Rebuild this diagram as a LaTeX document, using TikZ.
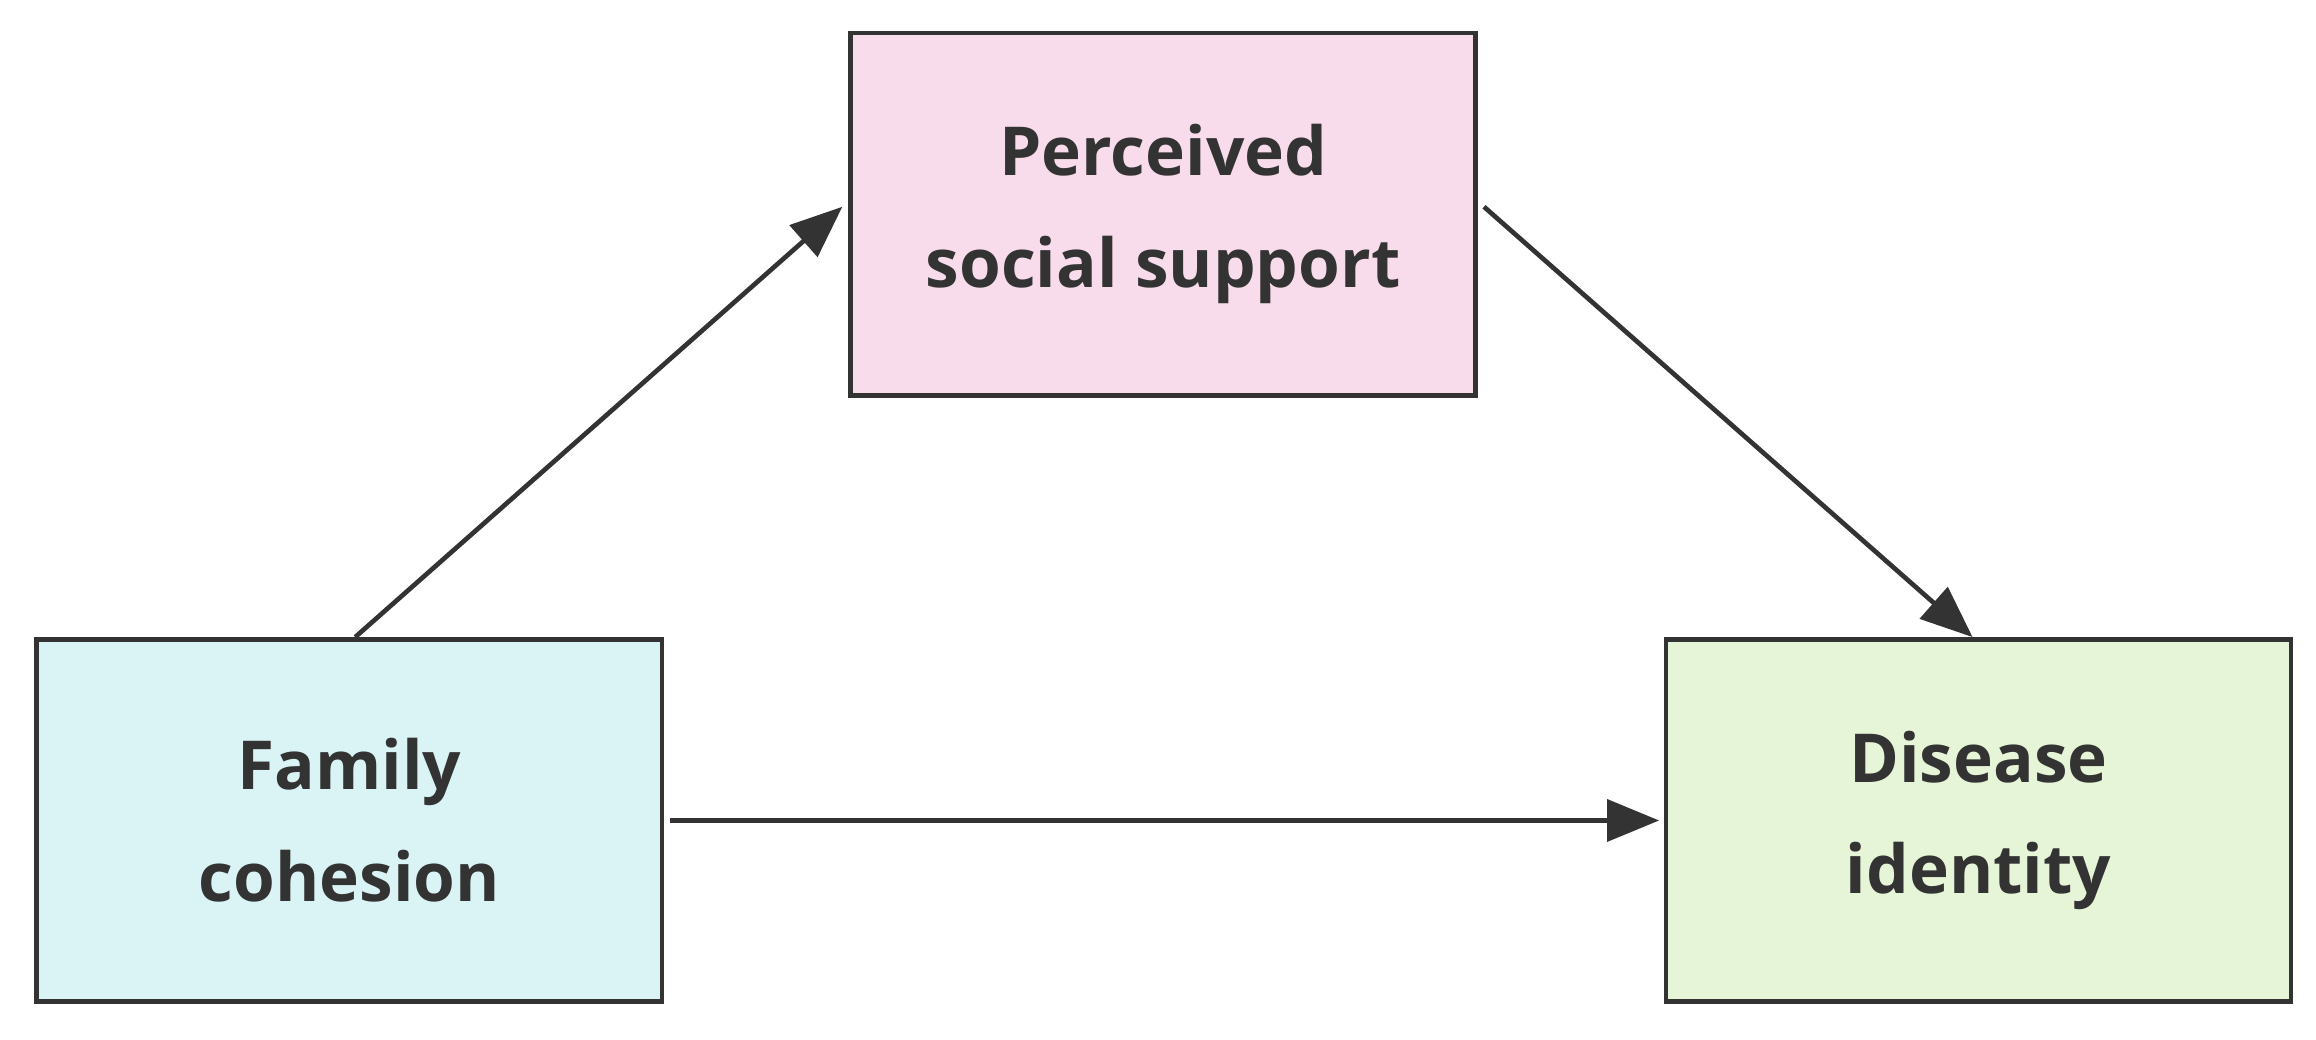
\documentclass[tikz,border=0pt]{standalone}
\usepackage{fontspec}
\setmainfont{Open Sans}
\usetikzlibrary{arrows.meta}
\definecolor{pinkf}{HTML}{F9DCEB}
\definecolor{cyanf}{HTML}{DAF3F4}
\definecolor{greenf}{HTML}{E6F4D7}
\definecolor{edge}{HTML}{333333}
\begin{document}
\begin{tikzpicture}[x=0.01cm,y=-0.01cm,
 box/.style={draw=edge,line width=0.9pt,minimum width=4.23cm,minimum height=2.45cm,align=center,font=\fontsize{13}{21.5}\selectfont\bfseries,text=edge},
 arr/.style={draw=edge,line width=0.9pt,-{Triangle[length=10pt,width=8pt]}}]
\useasboundingbox (0,0) rectangle (1568,704);
\node[box,fill=pinkf] (p) at (787.5,145) {Perceived\\social support};
\node[box,fill=cyanf] (f) at (236.5,555.5) {Family\\cohesion};
\node[box,fill=greenf] (d) at (1339.5,555.5) {Disease\\identity};
\draw[arr] ([xshift=0.04cm]f.north) -- ([yshift=0.05cm,xshift=-0.04cm]p.west);
\draw[arr] ([yshift=0.05cm,xshift=0.04cm]p.east) -- ([xshift=-0.04cm]d.north);
\draw[arr] ([xshift=0.04cm]f.east) -- ([xshift=-0.03cm]d.west);
\end{tikzpicture}
\end{document}
